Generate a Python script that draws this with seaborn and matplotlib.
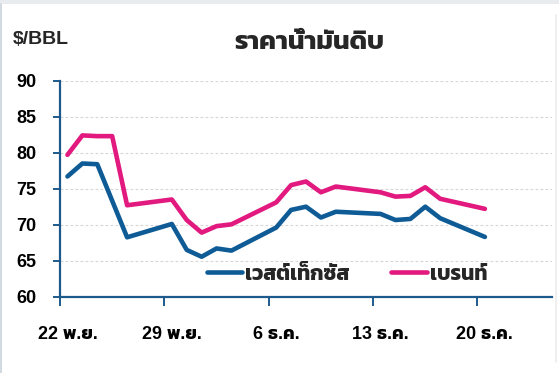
import numpy as np
import pandas as pd
import matplotlib

matplotlib.use("Agg")
import matplotlib.pyplot as plt
import seaborn as sns
from matplotlib.lines import Line2D
from matplotlib.patches import Rectangle

# trading days shown on the chart (2021); WTI has no settlement on Nov 25
dates = ["2021-11-22", "2021-11-23", "2021-11-24", "2021-11-25", "2021-11-26",
         "2021-11-29", "2021-11-30", "2021-12-01", "2021-12-02", "2021-12-03",
         "2021-12-06", "2021-12-07", "2021-12-08", "2021-12-09", "2021-12-10",
         "2021-12-13", "2021-12-14", "2021-12-15", "2021-12-16", "2021-12-17",
         "2021-12-20"]
wti = [76.7, 78.5, 78.4, np.nan, 68.25, 70.1, 66.5, 65.55, 66.7, 66.4,
       69.6, 72.05, 72.5, 71.0, 71.8, 71.5, 70.65, 70.8, 72.5, 70.9, 68.3]
brent = [79.7, 82.4, 82.3, 82.3, 72.7, 73.5, 70.65, 68.9, 69.8, 70.05,
         73.1, 75.5, 76.0, 74.5, 75.3, 74.5, 73.9, 74.0, 75.2, 73.6, 72.2]
series_names = ["เวสต์เท็กซัส", "เบรนท์"]
series_colors = ["#0E5B96", "#E2197E"]
tick_dates = ["2021-11-22", "2021-11-29", "2021-12-06", "2021-12-13", "2021-12-20"]
tick_labels = ["22 พ.ย.", "29 พ.ย.", "6 ธ.ค.", "13 ธ.ค.", "20 ธ.ค."]
title = "ราคาน้ำมันดิบ"
unit = "$/BBL"

sns.set_style("white")
plt.rcParams["font.family"] = ["Liberation Sans", "Kanit"]
plt.rcParams["font.weight"] = "bold"

day0 = pd.Timestamp(dates[0])
days = [(pd.Timestamp(d) - day0).days for d in dates]
df = pd.concat([
    pd.DataFrame({"day": days, "price": wti, "series": series_names[0]}),
    pd.DataFrame({"day": days, "price": brent, "series": series_names[1]}),
]).dropna()

W, H = 559, 373
fig = plt.figure(figsize=(W / 100, H / 100), dpi=100)
ax = fig.add_axes([60 / W, 1 - 296.7 / H, 492 / W, 216 / H])

sns.lineplot(data=df, x="day", y="price", hue="series", hue_order=series_names,
             palette=series_colors, linewidth=3.3, ax=ax, legend=False,
             solid_capstyle="round")

# axes styling
ax.set_ylim(60, 90)
ax.set_yticks(np.arange(60, 91, 5))
ax.set_xlim(-0.5, 32.5)
label_days = [(pd.Timestamp(d) - day0).days for d in tick_dates]
# tick marks sit on day boundaries, labels centred on the day itself
ax.set_xticks([d - 0.5 for d in label_days])
ax.set_xticklabels([])
ax.set_xticks(label_days, minor=True)
ax.set_xticklabels(tick_labels, minor=True)
ax.set_xlabel("")
ax.set_ylabel("")

spine_col = "#1D5A8C"
for s in ["top", "right"]:
    ax.spines[s].set_visible(False)
for s in ["left", "bottom"]:
    ax.spines[s].set_color(spine_col)
    ax.spines[s].set_linewidth(1.6)
ax.tick_params(axis="y", direction="out", length=5, width=1.4, color=spine_col,
               pad=12, labelsize=13, labelcolor="black", left=True)
ax.tick_params(axis="x", which="major", direction="out", length=6.5, width=1.4,
               color=spine_col, bottom=True)
ax.tick_params(axis="x", which="minor", length=0, pad=21, labelsize=13,
               labelcolor="black")
for y in range(65, 91, 5):
    ax.axhline(y, color="#D6D6D6", linewidth=0.8, linestyle=(0, (2.5, 2)), zorder=0)

handles = [Line2D([], [], color=c, linewidth=3.3) for c in series_colors]
ax.legend(handles, series_names, loc="center", bbox_to_anchor=(0.583, 0.105),
          ncol=2, frameon=False, fontsize=15, handlelength=1.7, handletextpad=0.15,
          columnspacing=2.0)

fig.text(13 / W, 1 - 39 / H, unit, fontsize=14, va="center", ha="left")
fig.text(309 / W, 1 - 42 / H, title, fontsize=19, va="center", ha="center")

# slide frame around the chart
fig.add_artist(Rectangle((0, 1 - 4 / H), 1, 4 / H, transform=fig.transFigure,
                         color="#E9ECEE", lw=0))
fig.add_artist(Line2D([1.5 / W, 1.5 / W], [0, 1 - 4 / H], transform=fig.transFigure,
                      color="#C9D3DA", lw=1.2))
fig.add_artist(Line2D([555.5 / W, 555.5 / W], [1 - 362 / H, 1 - 15 / H],
                      transform=fig.transFigure, color="#ECECEC", lw=1.2))

fig.savefig("out.png", dpi=100)
